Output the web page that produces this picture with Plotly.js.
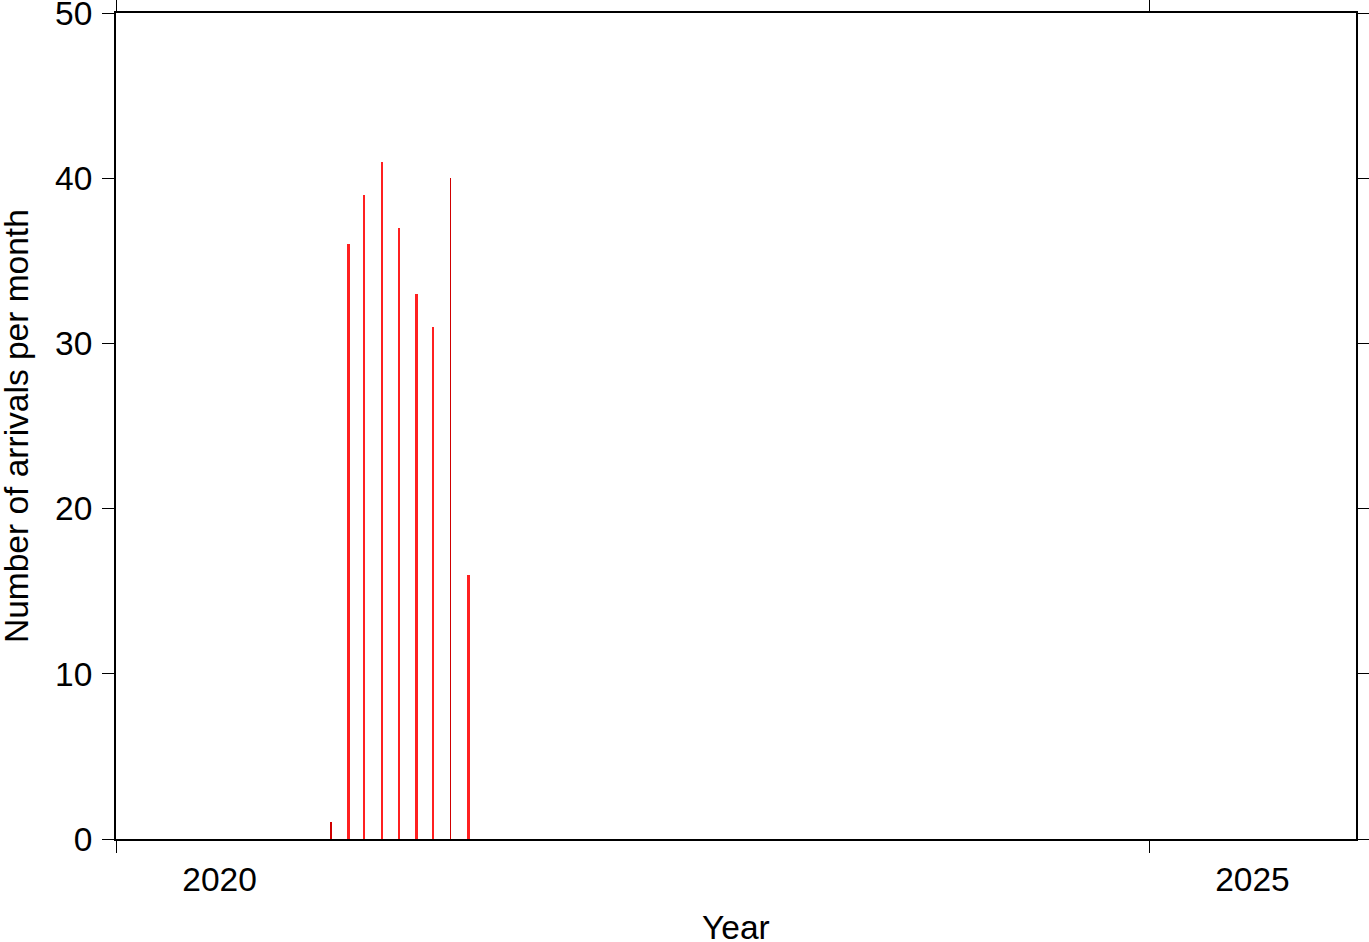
<!DOCTYPE html>
<html>
<head>
<meta charset="utf-8">
<script src="https://cdn.plot.ly/plotly-3.0.1.min.js"></script>
<style>
  html, body { margin: 0; padding: 0; background: #fff; }
  #chart { width: 1369px; height: 942px; }
</style>
</head>
<body>
<div id="chart"></div>
<script>
// Monthly arrivals (dates are mid-month)
const months = ['2021-01-15','2021-02-15','2021-03-15','2021-04-15','2021-05-15','2021-06-15','2021-07-15','2021-08-15','2021-09-15'];
const arrivals = [1, 36, 39, 41, 37, 33, 31, 40, 16];
const yearTicks = ['2020-01-01', '2025-01-01'];
const yearLabelPos = ['2020-07-02', '2025-07-02'];
const yearLabels = ['2020', '2025'];
const xTitle = 'Year';
const yTitle = 'Number of arrivals per month';

// styling (not data)
const DAY = 86400000;
const barWidths = [2, 4, 4, 4, 4, 4, 4, 2, 4].map(d => d * DAY);
const barColors = ['#d00000', '#ff2020', '#ff2020', '#ff2020', '#ff2020', '#ff2020', '#ff2020', '#d00000', '#ff2020'];

const FONT = '"Liberation Sans", Arial, Helvetica, sans-serif';
const FS = 33.5;
const xRange = ['2020-01-01', '2026-01-01'];

const traces = [
  {
    type: 'bar',
    x: months,
    y: arrivals,
    width: barWidths,
    marker: { color: barColors, line: { width: 0 } },
    hoverinfo: 'x+y'
  },
  {
    type: 'scatter',
    mode: 'markers',
    x: [],
    y: [],
    xaxis: 'x2',
    yaxis: 'y',
    showlegend: false
  }
];

const layout = {
  width: 1369,
  height: 942,
  paper_bgcolor: '#ffffff',
  plot_bgcolor: '#ffffff',
  showlegend: false,
  bargap: 0,
  margin: { l: 116, r: 13, t: 13, b: 103, pad: 0 },
  font: { family: FONT, size: FS, color: '#000' },
  xaxis: {
    type: 'date',
    range: xRange,
    tickmode: 'array',
    tickvals: yearTicks,
    ticktext: ['', ''],
    showticklabels: false,
    ticks: 'outside',
    ticklen: 12,
    tickwidth: 1,
    tickcolor: '#000',
    showline: true,
    linewidth: 2,
    linecolor: '#000',
    mirror: 'ticks',
    showgrid: false,
    zeroline: false,
    fixedrange: true
  },
  xaxis2: {
    type: 'date',
    overlaying: 'x',
    anchor: 'y',
    side: 'bottom',
    range: xRange,
    tickmode: 'array',
    tickvals: yearLabelPos,
    ticktext: yearLabels,
    ticks: '',
    ticklabelstandoff: 17,
    ticklabeloverflow: 'allow',
    showline: false,
    showgrid: false,
    zeroline: false,
    tickfont: { family: FONT, size: FS, color: '#000' },
    fixedrange: true
  },
  yaxis: {
    range: [0, 50],
    tickmode: 'linear',
    tick0: 0,
    dtick: 10,
    ticks: 'outside',
    ticklen: 12,
    tickwidth: 1,
    tickcolor: '#000',
    ticklabelstandoff: 3,
    ticklabeloverflow: 'allow',
    showline: true,
    linewidth: 2,
    linecolor: '#000',
    mirror: 'ticks',
    showgrid: false,
    zeroline: false,
    tickfont: { family: FONT, size: FS, color: '#000' },
    fixedrange: true
  },
  annotations: [
    {
      text: xTitle,
      xref: 'paper', yref: 'paper',
      x: 0.5, y: 0,
      xanchor: 'center', yanchor: 'middle',
      yshift: -88,
      borderpad: 0,
      showarrow: false,
      font: { family: FONT, size: FS, color: '#000' }
    },
    {
      text: yTitle,
      xref: 'paper', yref: 'paper',
      x: 0, y: 0.5,
      xanchor: 'center', yanchor: 'middle',
      xshift: -100,
      borderpad: 0,
      textangle: -90,
      showarrow: false,
      font: { family: FONT, size: FS, color: '#000' }
    }
  ]
};

Plotly.newPlot('chart', traces, layout, { displayModeBar: false, staticPlot: true });
</script>
</body>
</html>
